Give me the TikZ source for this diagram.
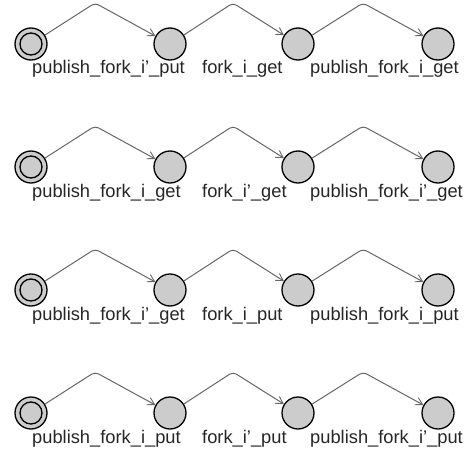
\documentclass[tikz,border=0pt]{standalone}
\usepackage{fontspec}
\setmainfont{Liberation Sans}
\usetikzlibrary{arrows.meta}
\tikzset{
  state/.style={circle, draw=black, line width=1.3pt, fill=black!20, minimum size=32pt, inner sep=0pt},
  ring/.style={draw=black, line width=1.3pt},
  trans/.style={draw=black!60, line width=1pt, rounded corners=4pt, -{Straight Barb[length=7pt,width=8pt,line width=0.9pt]}},
  lbl/.style={anchor=base west, inner sep=0pt, text=black!85, font=\fontsize{18.3}{20}\selectfont}
}
\begin{document}
\begin{tikzpicture}[x=1pt,y=-1pt]
\useasboundingbox (0,0) rectangle (474,452);
\foreach \r/\yy/\la/\lb/\lc in {
  1/44/{publish\_fork\_i'\_put}/{fork\_i\_get}/{publish\_fork\_i\_get},
  2/167/{publish\_fork\_i\_get}/{fork\_i'\_get}/{publish\_fork\_i'\_get},
  3/290/{publish\_fork\_i'\_get}/{fork\_i\_put}/{publish\_fork\_i\_put},
  4/413/{publish\_fork\_i\_put}/{fork\_i'\_put}/{publish\_fork\_i'\_put}} {
  \node[state] (a\r) at (31,\yy) {};
  \draw[ring] (a\r.center) circle[radius=11pt];
  \node[state] (b\r) at (170,\yy) {};
  \node[state] (c\r) at (298,\yy) {};
  \node[state] (d\r) at (438,\yy) {};
  \coordinate (p\r) at (95,\yy-41);
  \coordinate (q\r) at (233,\yy-41);
  \coordinate (u\r) at (363,\yy-41);
  \draw[trans] (a\r) -- (p\r) -- (b\r);
  \draw[trans] (b\r) -- (q\r) -- (c\r);
  \draw[trans] (c\r) -- (u\r) -- (d\r);
  \node[lbl] (la\r) at (32,\yy+30) {\la};
  \node[lbl] (lb\r) at (202,\yy+30) {\lb};
  \node[lbl] (lc\r) at (310,\yy+30) {\lc};
}
\end{tikzpicture}
\end{document}
